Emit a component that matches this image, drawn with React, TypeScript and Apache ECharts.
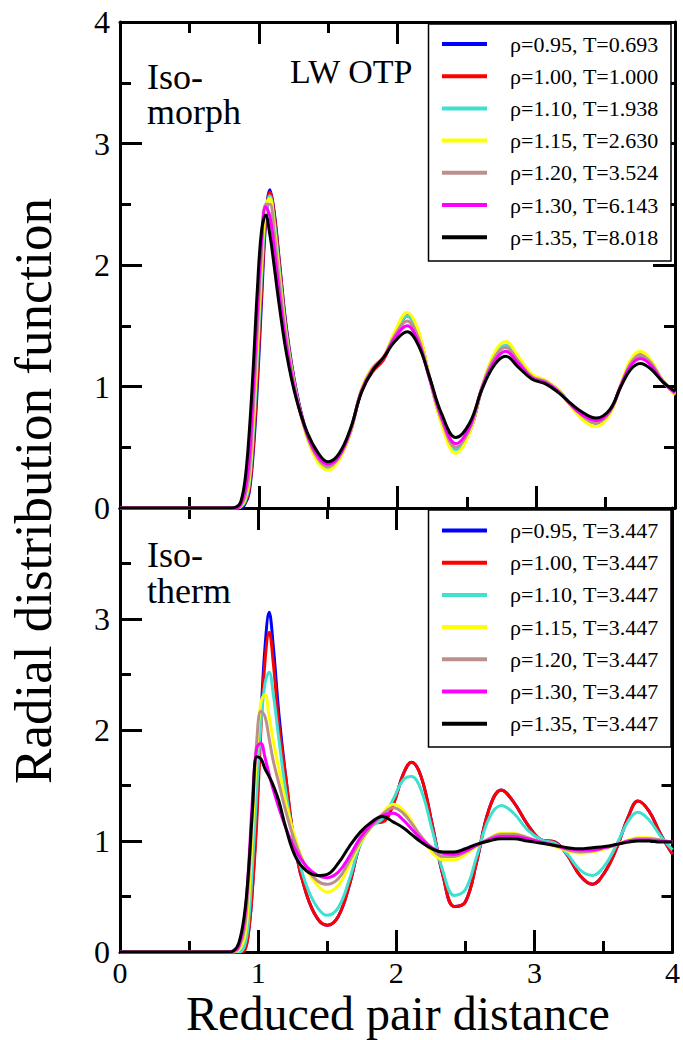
import React, { useEffect, useRef } from "react";
import * as echarts from "echarts";

// Reduced pair distance sample positions
const R_ISOMORPH = [0, 0.8, 0.84, 0.87, 0.9, 0.93, 0.96, 0.99, 1.02, 1.05, 1.08, 1.11, 1.15, 1.2, 1.27, 1.35, 1.43, 1.5, 1.58, 1.66, 1.74, 1.82, 1.9, 1.98, 2.07, 2.15, 2.23, 2.32, 2.42, 2.52, 2.61, 2.7, 2.78, 2.87, 2.97, 3.07, 3.16, 3.24, 3.33, 3.43, 3.53, 3.61, 3.68, 3.75, 3.83, 3.91, 4.0];
const R_ISOTHERM = [0, 0.78, 0.82, 0.86, 0.9, 0.93, 0.96, 0.99, 1.02, 1.05, 1.08, 1.11, 1.15, 1.2, 1.27, 1.35, 1.43, 1.5, 1.58, 1.66, 1.74, 1.82, 1.9, 1.98, 2.05, 2.11, 2.18, 2.26, 2.34, 2.42, 2.5, 2.58, 2.67, 2.76, 2.85, 2.95, 3.05, 3.15, 3.24, 3.33, 3.42, 3.51, 3.6, 3.68, 3.75, 3.83, 3.91, 4.0];

const RHO = ["0.95", "1.00", "1.10", "1.15", "1.20", "1.30", "1.35"];
const T_ISOMORPH = ["0.693", "1.000", "1.938", "2.630", "3.524", "6.143", "8.018"];
const T_ISOTHERM = ["3.447", "3.447", "3.447", "3.447", "3.447", "3.447", "3.447"];
const COLORS = ["#0000ff", "#ff0000", "#40e0d0", "#ffff00", "#bc8f8f", "#ff00ff", "#000000"];

// Isomorph g(r)
const G_ISOMORPH_095 = [0, 0, 0, 0, 0.03, 0.12, 0.45, 1.0, 1.7, 2.35, 2.62, 2.45, 2.02, 1.48, 0.97, 0.6, 0.39, 0.33, 0.41, 0.63, 0.96, 1.14, 1.23, 1.43, 1.58, 1.44, 1.08, 0.7, 0.49, 0.63, 0.99, 1.25, 1.33, 1.22, 1.08, 1.04, 0.97, 0.86, 0.75, 0.7, 0.79, 1.01, 1.19, 1.26, 1.19, 1.05, 0.94];
const G_ISOMORPH_100 = [0, 0, 0, 0.01, 0.04, 0.14, 0.5, 1.08, 1.78, 2.38, 2.6, 2.43, 2.0, 1.46, 0.96, 0.59, 0.39, 0.33, 0.41, 0.62, 0.96, 1.12, 1.22, 1.42, 1.58, 1.44, 1.08, 0.7, 0.49, 0.63, 0.99, 1.25, 1.33, 1.22, 1.08, 1.04, 0.97, 0.86, 0.75, 0.7, 0.79, 1.01, 1.19, 1.26, 1.19, 1.05, 0.94];
const G_ISOMORPH_110 = [0, 0, 0, 0.01, 0.05, 0.18, 0.6, 1.22, 1.9, 2.42, 2.57, 2.38, 1.95, 1.43, 0.95, 0.58, 0.39, 0.33, 0.41, 0.63, 0.97, 1.15, 1.24, 1.43, 1.58, 1.44, 1.08, 0.7, 0.48, 0.63, 1.0, 1.26, 1.34, 1.23, 1.09, 1.04, 0.97, 0.86, 0.75, 0.7, 0.79, 1.01, 1.19, 1.26, 1.2, 1.05, 0.94];
const G_ISOMORPH_115 = [0, 0, 0, 0.01, 0.07, 0.22, 0.68, 1.32, 2.0, 2.48, 2.55, 2.33, 1.9, 1.4, 0.93, 0.57, 0.37, 0.31, 0.4, 0.62, 0.98, 1.16, 1.25, 1.45, 1.61, 1.46, 1.08, 0.68, 0.45, 0.62, 1.0, 1.28, 1.37, 1.25, 1.1, 1.05, 0.97, 0.85, 0.73, 0.67, 0.77, 1.02, 1.22, 1.29, 1.21, 1.05, 0.93];
const G_ISOMORPH_120 = [0, 0, 0, 0.02, 0.09, 0.27, 0.78, 1.45, 2.1, 2.5, 2.5, 2.28, 1.85, 1.38, 0.93, 0.59, 0.4, 0.34, 0.42, 0.63, 0.97, 1.15, 1.24, 1.42, 1.54, 1.4, 1.07, 0.72, 0.5, 0.65, 1.0, 1.24, 1.32, 1.21, 1.08, 1.04, 0.96, 0.86, 0.76, 0.7, 0.79, 1.01, 1.19, 1.26, 1.19, 1.05, 0.94];
const G_ISOMORPH_130 = [0, 0, 0, 0.03, 0.13, 0.38, 0.95, 1.6, 2.2, 2.48, 2.4, 2.15, 1.75, 1.33, 0.92, 0.6, 0.42, 0.36, 0.43, 0.64, 0.96, 1.14, 1.24, 1.4, 1.5, 1.37, 1.07, 0.74, 0.53, 0.67, 0.99, 1.21, 1.29, 1.19, 1.07, 1.03, 0.96, 0.86, 0.77, 0.72, 0.8, 1.01, 1.17, 1.23, 1.17, 1.04, 0.95];
const G_ISOMORPH_135 = [0, 0, 0.01, 0.05, 0.22, 0.6, 1.15, 1.8, 2.28, 2.41, 2.25, 2.0, 1.65, 1.27, 0.9, 0.62, 0.45, 0.38, 0.45, 0.65, 0.95, 1.13, 1.24, 1.37, 1.45, 1.34, 1.08, 0.77, 0.58, 0.7, 0.98, 1.18, 1.25, 1.16, 1.06, 1.02, 0.95, 0.87, 0.79, 0.74, 0.81, 1.0, 1.14, 1.19, 1.14, 1.04, 0.96];

// Isotherm g(r)
const G_ISOTHERM_095 = [0, 0, 0, 0, 0.02, 0.17, 0.6, 1.25, 2.1, 2.75, 3.06, 2.75, 2.15, 1.58, 0.92, 0.52, 0.3, 0.24, 0.32, 0.6, 0.98, 1.16, 1.18, 1.34, 1.6, 1.71, 1.58, 1.15, 0.68, 0.41, 0.45, 0.8, 1.28, 1.46, 1.35, 1.15, 1.01, 0.99, 0.87, 0.69, 0.61, 0.72, 0.95, 1.22, 1.36, 1.27, 1.07, 0.88];
const G_ISOTHERM_100 = [0, 0, 0, 0, 0.01, 0.17, 0.58, 1.17, 2.0, 2.62, 2.88, 2.6, 2.05, 1.58, 0.92, 0.52, 0.3, 0.24, 0.32, 0.6, 0.98, 1.16, 1.17, 1.33, 1.6, 1.71, 1.58, 1.15, 0.68, 0.41, 0.45, 0.8, 1.28, 1.46, 1.35, 1.15, 1.01, 0.99, 0.87, 0.69, 0.61, 0.72, 0.95, 1.22, 1.36, 1.27, 1.07, 0.88];
const G_ISOTHERM_110 = [0, 0, 0, 0, 0.05, 0.26, 0.8, 1.45, 2.05, 2.42, 2.52, 2.32, 1.92, 1.45, 0.95, 0.6, 0.4, 0.33, 0.4, 0.65, 0.97, 1.13, 1.2, 1.38, 1.55, 1.58, 1.46, 1.1, 0.72, 0.51, 0.56, 0.85, 1.2, 1.32, 1.25, 1.1, 1.01, 0.98, 0.88, 0.74, 0.69, 0.78, 0.98, 1.18, 1.26, 1.19, 1.05, 0.92];
const G_ISOTHERM_115 = [0, 0, 0, 0.02, 0.12, 0.45, 1.12, 1.8, 2.25, 2.32, 2.12, 1.9, 1.65, 1.35, 1.02, 0.75, 0.6, 0.54, 0.6, 0.78, 0.98, 1.13, 1.25, 1.33, 1.28, 1.18, 1.03, 0.9, 0.83, 0.83, 0.88, 0.95, 1.02, 1.07, 1.07, 1.03, 0.99, 0.95, 0.91, 0.89, 0.9, 0.93, 0.97, 1.01, 1.03, 1.03, 1.01, 0.99];
const G_ISOTHERM_120 = [0, 0, 0, 0.04, 0.2, 0.62, 1.3, 1.9, 2.17, 2.12, 1.92, 1.72, 1.52, 1.27, 0.98, 0.76, 0.64, 0.61, 0.66, 0.82, 1.0, 1.13, 1.24, 1.3, 1.25, 1.16, 1.04, 0.93, 0.86, 0.86, 0.9, 0.96, 1.02, 1.06, 1.06, 1.03, 0.99, 0.96, 0.92, 0.9, 0.91, 0.94, 0.97, 1.0, 1.02, 1.02, 1.01, 0.99];
const G_ISOTHERM_130 = [0, 0, 0.01, 0.05, 0.28, 0.75, 1.4, 1.84, 1.88, 1.75, 1.6, 1.46, 1.3, 1.12, 0.92, 0.77, 0.69, 0.67, 0.72, 0.86, 1.03, 1.15, 1.23, 1.25, 1.19, 1.11, 1.02, 0.94, 0.89, 0.88, 0.91, 0.96, 1.01, 1.04, 1.04, 1.02, 0.99, 0.96, 0.93, 0.92, 0.92, 0.94, 0.97, 1.0, 1.01, 1.01, 1.0, 0.99];
const G_ISOTHERM_135 = [0, 0, 0.01, 0.08, 0.33, 0.72, 1.3, 1.76, 1.74, 1.65, 1.58, 1.5, 1.36, 1.12, 0.86, 0.73, 0.69, 0.7, 0.8, 0.95, 1.08, 1.17, 1.22, 1.17, 1.12, 1.06, 0.99, 0.93, 0.9, 0.9, 0.93, 0.97, 1.0, 1.02, 1.02, 1.0, 0.98, 0.96, 0.94, 0.93, 0.94, 0.95, 0.97, 0.99, 1.0, 1.0, 0.99, 0.99];

const G_ISOMORPH = [G_ISOMORPH_095, G_ISOMORPH_100, G_ISOMORPH_110, G_ISOMORPH_115, G_ISOMORPH_120, G_ISOMORPH_130, G_ISOMORPH_135];
const G_ISOTHERM = [G_ISOTHERM_095, G_ISOTHERM_100, G_ISOTHERM_110, G_ISOTHERM_115, G_ISOTHERM_120, G_ISOTHERM_130, G_ISOTHERM_135];

const X_TICKS = [0, 1, 2, 3, 4];
const Y_TICKS = [0, 1, 2, 3, 4];

const FONT = "'Liberation Serif', 'Times New Roman', serif";

function baseAxis(gridIndex: number, position: string, showLabel: boolean, extraLabel: any = {}) {
  return {
    type: "value",
    gridIndex,
    position,
    min: X_TICKS[0],
    max: X_TICKS[X_TICKS.length - 1],
    interval: 1,
    axisLine: { show: true, onZero: false, lineStyle: { color: "#000", width: 3 } },
    axisTick: { show: true, inside: true, length: 22, lineStyle: { color: "#000", width: 3 } },
    minorTick: { show: true, splitNumber: 2, length: 11, lineStyle: { color: "#000", width: 3 } },
    splitLine: { show: false },
    minorSplitLine: { show: false },
    axisLabel: {
      show: showLabel,
      color: "#000",
      fontFamily: FONT,
      fontSize: 32,
      ...extraLabel,
    },
  };
}

function legendGraphics(top: number, rowTop: number, temps: string[]) {
  const els: any[] = [
    {
      type: "rect",
      z: 100,
      shape: { x: 428.5, y: top, width: 242.5, height: 237 },
      style: { fill: "#fff", stroke: "#000", lineWidth: 1.5 },
    },
  ];
  RHO.forEach((rho, i) => {
    const y = rowTop + i * 32.2;
    els.push({
      type: "line",
      z: 101,
      shape: { x1: 442, y1: y, x2: 487, y2: y },
      style: { stroke: COLORS[i], lineWidth: 4 },
    });
    els.push({
      type: "text",
      z: 101,
      x: 510,
      y,
      style: {
        text: `ρ=${rho}, T=${temps[i]}`,
        fontFamily: FONT,
        fontSize: 22,
        fill: "#000",
        align: "left",
        verticalAlign: "middle",
      },
    });
  });
  return els;
}

function textEl(text: string, x: number, y: number, size: number, extra: any = {}) {
  return {
    type: "text",
    z: 90,
    x,
    y,
    ...extra,
    style: { text, fontFamily: FONT, fontSize: size, fill: "#000", align: "left", verticalAlign: "middle", ...(extra.style || {}) },
  };
}

export default function App() {
  const ref = useRef<HTMLDivElement>(null);
  useEffect(() => {
    if (!ref.current) return;
    const chart = echarts.init(ref.current, undefined, { renderer: "svg" });
    const series: any[] = [];
    G_ISOMORPH.forEach((g, i) => {
      series.push({
        name: `ρ=${RHO[i]}, T=${T_ISOMORPH[i]}`,
        type: "line",
        xAxisIndex: 0,
        yAxisIndex: 0,
        data: R_ISOMORPH.map((r, k) => [r, g[k]]),
        showSymbol: false,
        smooth: 0.4,
        lineStyle: { color: COLORS[i], width: 3 },
        itemStyle: { color: COLORS[i] },
      });
    });
    G_ISOTHERM.forEach((g, i) => {
      series.push({
        name: `ρ=${RHO[i]}, T=${T_ISOTHERM[i]} `,
        type: "line",
        xAxisIndex: 2,
        yAxisIndex: 2,
        data: R_ISOTHERM.map((r, k) => [r, g[k]]),
        showSymbol: false,
        smooth: 0.4,
        lineStyle: { color: COLORS[i], width: 3 },
        itemStyle: { color: COLORS[i] },
      });
    });

    chart.setOption({
      animation: false,
      backgroundColor: "#fff",
      grid: [
        { left: 120, right: 8, top: 22, height: 486 },
        { left: 120, right: 8, top: 508, height: 444 },
      ],
      xAxis: [
        baseAxis(0, "bottom", false),
        baseAxis(0, "top", false),
        baseAxis(1, "bottom", true, { margin: 5, fontSize: 30 }),
        baseAxis(1, "top", false),
      ],
      yAxis: [
        { ...baseAxis(0, "left", true, { margin: 10 }), min: Y_TICKS[0], max: Y_TICKS[Y_TICKS.length - 1] },
        { ...baseAxis(0, "right", false), min: Y_TICKS[0], max: Y_TICKS[Y_TICKS.length - 1] },
        {
          ...baseAxis(1, "left", true, {
            margin: 10,
            formatter: (v: number) => (v === 4 ? "" : String(v)),
          }),
          min: Y_TICKS[0],
          max: Y_TICKS[Y_TICKS.length - 1],
        },
        { ...baseAxis(1, "right", false), min: Y_TICKS[0], max: Y_TICKS[Y_TICKS.length - 1] },
      ],
      series,
      graphic: [
        ...legendGraphics(24, 44, T_ISOMORPH),
        ...legendGraphics(510, 530.5, T_ISOTHERM),
        textEl("Iso-", 147, 77, 36),
        textEl("morph", 147, 112, 36),
        textEl("Iso-", 147, 555, 36),
        textEl("therm", 147, 591, 36),
        textEl("LW OTP", 290, 71, 34),
        textEl("Reduced pair distance", 398, 1013, 48, { style: { align: "center" } }),
        textEl("Radial distribution function", 33, 491, 53, {
          rotation: Math.PI / 2,
          style: { align: "center" },
        }),
      ],
    });
    return () => chart.dispose();
  }, []);
  return <div ref={ref} style={{ position: "absolute", left: 0, top: 0, width: 683, height: 1040 }} />;
}
